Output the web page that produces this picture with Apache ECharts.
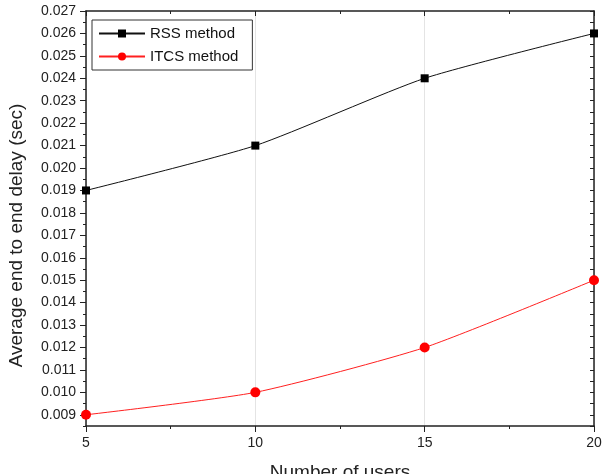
<!DOCTYPE html>
<html>
<head>
<meta charset="utf-8">
<script src="https://cdn.jsdelivr.net/npm/echarts@6/dist/echarts.min.js"></script>
<style>
  html, body { margin: 0; padding: 0; background: #fff; }
  #chart { width: 605px; height: 474px; }
</style>
</head>
<body>
<div id="chart"></div>
<script>
// data
const users = [5, 10, 15, 20];
const rssDelay = [0.019, 0.021, 0.024, 0.026];
const itcsDelay = [0.009, 0.010, 0.012, 0.015];
const yTicks = [0.009, 0.010, 0.011, 0.012, 0.013, 0.014, 0.015, 0.016, 0.017, 0.018,
    0.019, 0.020, 0.021, 0.022, 0.023, 0.024, 0.025, 0.026, 0.027];

const chart = echarts.init(document.getElementById("chart"));
const font = "Liberation Sans, Arial, sans-serif";
const axisColor = "#222";

const option = {
    backgroundColor: "#fff",
    animation: false,
    grid: { left: 86, right: 11, top: 11, bottom: 48, outerBoundsMode: "none" },
    legend: {
        orient: "vertical",
        left: 92,
        top: 20,
        itemWidth: 46,
        itemHeight: 10,
        itemGap: 8,
        padding: [6, 14, 6, 6],
        borderColor: "#333",
        borderWidth: 1,
        textStyle: { fontFamily: font, fontSize: 15, color: "#111" },
        data: ["RSS method", "ITCS method"],
    },
    xAxis: [
        {
            type: "value",
            min: 5,
            max: 20,
            interval: 5,
            name: "Number of users",
            nameLocation: "middle",
            nameGap: 37,
            nameTextStyle: { fontFamily: font, fontSize: 19, color: "#222" },
            axisLine: { lineStyle: { color: axisColor, width: 1.5 } },
            axisTick: { inside: false, length: 6, lineStyle: { color: axisColor } },
            minorTick: { show: true, splitNumber: 2, length: 3, lineStyle: { color: axisColor } },
            axisLabel: { fontFamily: font, fontSize: 14, color: "#222", margin: 10 },
            splitLine: { show: true, lineStyle: { color: "#e4e4e4", width: 1 } },
        },
        {
            type: "value",
            position: "top",
            min: 5,
            max: 20,
            interval: 5,
            axisLine: { lineStyle: { color: axisColor, width: 1.5 } },
            axisTick: { inside: true, length: 5, lineStyle: { color: axisColor } },
            minorTick: { show: true, splitNumber: 2, length: 3, lineStyle: { color: axisColor } },
            axisLabel: { show: false },
            splitLine: { show: false },
        },
    ],
    yAxis: [
        {
            type: "value",
            min: 0.0085,
            max: 0.027,
            name: "Average end to end delay (sec)",
            nameLocation: "middle",
            nameGap: 60,
            nameTextStyle: {
                fontFamily: font,
                fontSize: 19,
                color: "#222",
                padding: [0, 34, 0, 0],
            },
            axisLine: { show: true, lineStyle: { color: axisColor, width: 1.5 } },
            axisTick: {
                inside: false,
                length: 6,
                customValues: yTicks,
                lineStyle: { color: axisColor },
            },
            axisLabel: {
                fontFamily: font,
                fontSize: 14,
                color: "#222",
                margin: 10,
                customValues: yTicks,
                formatter: (v) => v.toFixed(3),
            },
            splitLine: { show: false },
        },
        {
            // half-step minor ticks on the left side
            type: "value",
            position: "left",
            min: 0.0085,
            max: 0.027,
            interval: 0.0005,
            axisLine: { show: false },
            axisTick: { inside: false, length: 3, lineStyle: { color: axisColor } },
            axisLabel: { show: false },
            splitLine: { show: false },
        },
        {
            type: "value",
            position: "right",
            min: 0.0085,
            max: 0.027,
            interval: 0.0005,
            axisLine: { show: true, lineStyle: { color: axisColor, width: 1.5 } },
            axisTick: { inside: true, length: 4, lineStyle: { color: axisColor } },
            axisLabel: { show: false },
            splitLine: { show: false },
        },
    ],
    series: [
        {
            name: "RSS method",
            type: "line",
            smooth: 0.2,
            data: users.map((u, i) => [u, rssDelay[i]]),
            symbol: "rect",
            symbolSize: 8,
            lineStyle: { color: "#111", width: 1 },
            itemStyle: { color: "#000" },
        },
        {
            name: "ITCS method",
            type: "line",
            smooth: 0.2,
            data: users.map((u, i) => [u, itcsDelay[i]]),
            symbol: "circle",
            symbolSize: 10,
            lineStyle: { color: "#ff2020", width: 1 },
            itemStyle: { color: "#ff0000" },
        },
    ],
};

chart.setOption(option);
</script>
</body>
</html>
